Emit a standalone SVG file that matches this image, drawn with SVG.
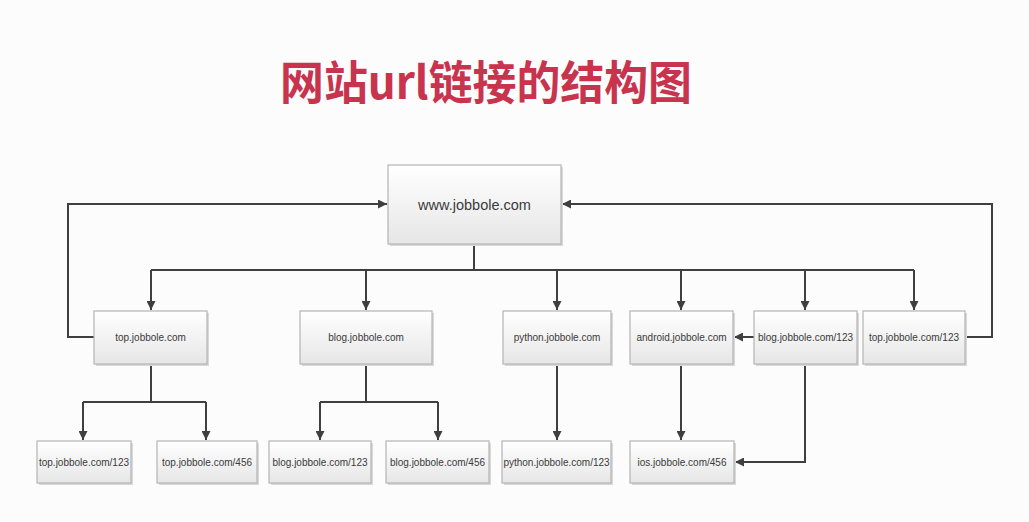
<svg xmlns="http://www.w3.org/2000/svg" width="1029" height="522" viewBox="0 0 1029 522">
<defs>
<linearGradient id="g" x1="0" y1="0" x2="0" y2="1">
<stop offset="0" stop-color="#ffffff"/>
<stop offset="1" stop-color="#e6e6e6"/>
</linearGradient>
<marker id="a" viewBox="0 0 10 10" refX="10" refY="5" markerWidth="10" markerHeight="9" markerUnits="userSpaceOnUse" orient="auto">
<path d="M0,0 L10,5 L0,10 z" fill="#3f3f3f"/>
</marker>
</defs>
<style>
.n rect{fill:url(#g);stroke:#b4b4b4;stroke-width:1.2}
.n .s{fill:#d8d8d8;stroke:none}
.n text{font-family:"Liberation Sans",Arial,sans-serif;font-size:10px;fill:#3a3a3a;text-anchor:middle}
#c path{fill:none;stroke:#3f3f3f;stroke-width:2}
.t{font-family:"Noto Sans CJK SC","Noto Sans",sans-serif;font-weight:bold;font-size:46px;fill:#c8334d}
</style>
<rect width="1029" height="522" fill="#fcfcfc"/>
<text class="t" x="280" y="99" textLength="412" lengthAdjust="spacingAndGlyphs">网站url链接的结构图</text>
<g id="c">
<path d="M474,244 V270"/>
<path d="M151,270 H914"/>
<path d="M151,270 V310" marker-end="url(#a)"/>
<path d="M366,270 V310" marker-end="url(#a)"/>
<path d="M557,270 V310" marker-end="url(#a)"/>
<path d="M681,270 V310" marker-end="url(#a)"/>
<path d="M805,270 V310" marker-end="url(#a)"/>
<path d="M914,270 V310" marker-end="url(#a)"/>
<path d="M94,337 H68 V204 H387" marker-end="url(#a)"/>
<path d="M965,337 H992 V204 H562" marker-end="url(#a)"/>
<path d="M754,337 H734" marker-end="url(#a)"/>
<path d="M151,364 V402"/>
<path d="M83,402 H206"/>
<path d="M83,402 V440" marker-end="url(#a)"/>
<path d="M206,402 V440" marker-end="url(#a)"/>
<path d="M366,364 V402"/>
<path d="M320,402 H438"/>
<path d="M320,402 V440" marker-end="url(#a)"/>
<path d="M438,402 V440" marker-end="url(#a)"/>
<path d="M557,364 V440" marker-end="url(#a)"/>
<path d="M681,364 V440" marker-end="url(#a)"/>
<path d="M805,364 V462 H735" marker-end="url(#a)"/>
</g>
<g id="root" class="n"><rect class="s" x="390" y="167" width="173" height="79"/><rect x="388" y="165" width="173" height="79"/><text x="474.5" y="210" style="font-size:14.5px">www.jobbole.com</text></g>
<g id="top" class="n"><rect class="s" x="96" y="313" width="113" height="53"/><rect x="94" y="311" width="113" height="53"/><text x="150.5" y="340.5">top.jobbole.com</text></g>
<g id="blog" class="n"><rect class="s" x="302" y="313" width="132" height="53"/><rect x="300" y="311" width="132" height="53"/><text x="366" y="340.5">blog.jobbole.com</text></g>
<g id="python" class="n"><rect class="s" x="505" y="313" width="108" height="53"/><rect x="503" y="311" width="108" height="53"/><text x="557" y="340.5">python.jobbole.com</text></g>
<g id="android" class="n"><rect class="s" x="632" y="313" width="103" height="53"/><rect x="630" y="311" width="103" height="53"/><text x="681.5" y="340.5">android.jobbole.com</text></g>
<g id="blog123" class="n"><rect class="s" x="756" y="313" width="103" height="53"/><rect x="754" y="311" width="103" height="53"/><text x="805.5" y="340.5">blog.jobbole.com/123</text></g>
<g id="top123" class="n"><rect class="s" x="865" y="313" width="102" height="53"/><rect x="863" y="311" width="102" height="53"/><text x="914" y="340.5">top.jobbole.com/123</text></g>
<g id="top-123" class="n"><rect class="s" x="39" y="443" width="94" height="42"/><rect x="37" y="441" width="94" height="42"/><text x="84" y="465.5">top.jobbole.com/123</text></g>
<g id="top-456" class="n"><rect class="s" x="159" y="443" width="100" height="42"/><rect x="157" y="441" width="100" height="42"/><text x="207" y="465.5">top.jobbole.com/456</text></g>
<g id="blog-123" class="n"><rect class="s" x="271" y="443" width="102" height="42"/><rect x="269" y="441" width="102" height="42"/><text x="320" y="465.5">blog.jobbole.com/123</text></g>
<g id="blog-456" class="n"><rect class="s" x="388" y="443" width="103" height="42"/><rect x="386" y="441" width="103" height="42"/><text x="437.5" y="465.5">blog.jobbole.com/456</text></g>
<g id="python-123" class="n"><rect class="s" x="504" y="443" width="109" height="42"/><rect x="502" y="441" width="109" height="42"/><text x="556.5" y="465.5">python.jobbole.com/123</text></g>
<g id="ios-456" class="n"><rect class="s" x="632" y="443" width="104" height="42"/><rect x="630" y="441" width="104" height="42"/><text x="682" y="465.5">ios.jobbole.com/456</text></g>
</svg>
